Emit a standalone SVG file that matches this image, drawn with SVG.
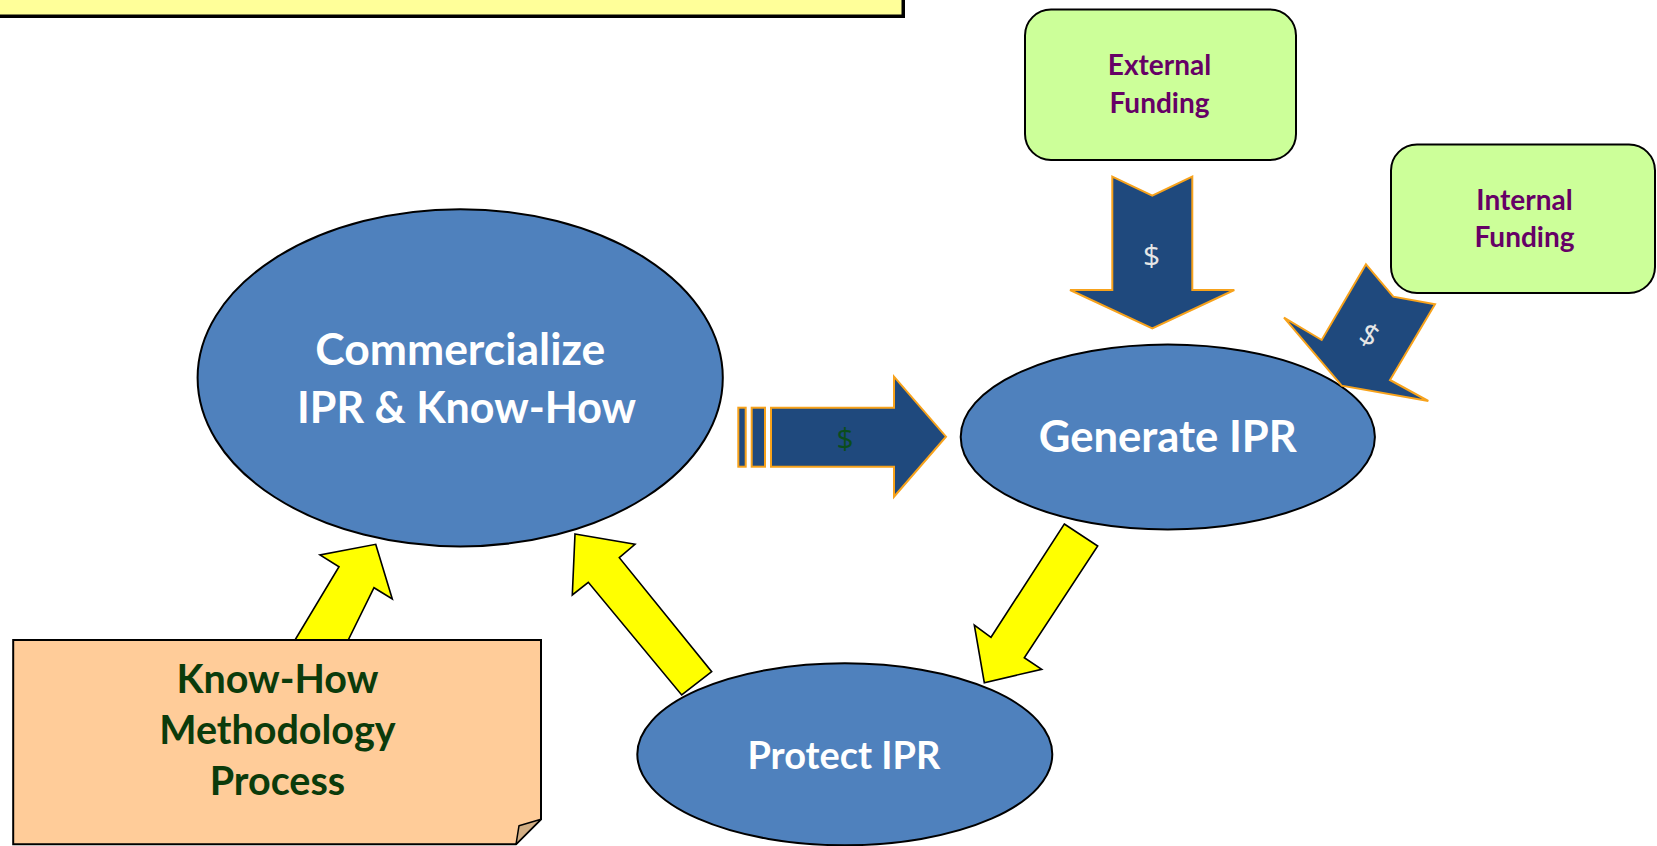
<svg xmlns="http://www.w3.org/2000/svg" width="1657" height="846" viewBox="0 0 1657 846">
<style>
.ell{fill:#4F81BD;stroke:#000;stroke-width:2}
.yarr{fill:#FFFF00;stroke:#000;stroke-width:1.6;stroke-linejoin:miter}
.darr{fill:#1F497D;stroke:#F7A21B;stroke-width:2;stroke-linejoin:miter}
.gbox{fill:#CCFF99;stroke:#000;stroke-width:2}
.wt{font-family:Lato,"Liberation Sans",sans-serif;font-weight:bold;fill:#FFFFFF;text-anchor:middle}
.pt{font-family:Lato,"Liberation Sans",sans-serif;font-weight:bold;fill:#660066;text-anchor:middle;font-size:28px}
.gt{font-family:Lato,"Liberation Sans",sans-serif;font-weight:bold;fill:#0B3B0B;text-anchor:middle;font-size:39.5px}
.dol{font-family:"Open Sans","Liberation Sans",sans-serif;text-anchor:middle;font-size:30px}
</style>
<g id="top-box">
<rect x="-2" y="-2" width="907" height="20" fill="#000"/>
<rect x="-5" y="-5" width="907" height="20" fill="#FFFF99" stroke="#000" stroke-width="1"/>
</g>
<g id="commercialize">
<ellipse class="ell" cx="460.2" cy="377.8" rx="262.6" ry="168.6"/>
<text class="wt" x="460.2" y="365" font-size="44.5" textLength="290" lengthAdjust="spacingAndGlyphs">Commercialize</text>
<text class="wt" x="466.6" y="423" font-size="44" textLength="339" lengthAdjust="spacingAndGlyphs">IPR &amp; Know-How</text>
</g>
<g id="generate">
<ellipse class="ell" cx="1167.8" cy="437" rx="207.1" ry="92.5"/>
<text class="wt" x="1167.8" y="451.7" font-size="44" textLength="258" lengthAdjust="spacingAndGlyphs">Generate IPR</text>
</g>
<g id="protect">
<ellipse class="ell" cx="844.8" cy="754.3" rx="207.5" ry="91"/>
<text class="wt" x="843.9" y="769.3" font-size="38.5" textLength="193" lengthAdjust="spacingAndGlyphs">Protect IPR</text>
</g>
<g id="external-funding">
<rect class="gbox" x="1025" y="9.5" width="271" height="150.5" rx="26" ry="26"/>
<text class="pt" x="1159.5" y="75">External</text>
<text class="pt" x="1159.5" y="113">Funding</text>
</g>
<g id="internal-funding">
<rect class="gbox" x="1391" y="144.5" width="264" height="148.5" rx="26" ry="26"/>
<text class="pt" x="1524.5" y="209.7">Internal</text>
<text class="pt" x="1524.5" y="247.3">Funding</text>
</g>
<g id="connectors">
<polygon class="yarr" points="375.7,544.3 392.3,599 374,587.7 343.3,650 289,650 339,566.7 320,555"/>
<polygon class="yarr" points="575,534 635,544.3 619.3,557.7 711.7,671.7 681.7,695 588.3,582.3 572.3,595"/>
<polygon class="yarr" points="1064.3,524 1097.7,546 1024.3,657.7 1041.7,669.3 984.3,682.7 974.3,625 991,637.3"/>
<g id="arrow-right">
<rect class="darr" x="738.3" y="407.7" width="7.4" height="59"/>
<rect class="darr" x="751.7" y="407.7" width="13.3" height="59"/>
<polygon class="darr" points="771,407.7 894,407.7 894,376.7 946,436.7 894,496.7 894,466.7 771,466.7"/>
<text class="dol" x="845" y="449" fill="#0B4D1A">$</text>
</g>
<g id="arrow-down">
<polygon class="darr" points="1112.3,176.7 1152.3,195.7 1192.3,176.7 1192.3,290 1234.3,290 1152.3,328.3 1070,290 1112.3,290"/>
<text class="dol" x="1151.7" y="266" fill="#E6E6E6">$</text>
</g>
<g id="arrow-diag">
<polygon class="darr" points="1366,264.3 1393.3,296.7 1435,304.3 1390,380 1428.3,401 1341.7,385.7 1284,317.7 1321.7,340"/>
<text class="dol" x="0" y="10" fill="#E6E6E6" transform="translate(1369.3,335.7) rotate(30)">$</text>
</g>
</g>
<g id="know-how">
<polygon points="13.2,640 541,640 541,819.3 516,844.3 13.2,844.3" fill="#FFCC99" stroke="#000" stroke-width="2"/>
<polygon points="541,819.3 519,825.7 516,844.3" fill="#D2AE84" stroke="#000" stroke-width="1.5" stroke-linejoin="round"/>
<text class="gt" x="277.4" y="692.7">Know-How</text>
<text class="gt" x="277.4" y="744">Methodology</text>
<text class="gt" x="277.4" y="795">Process</text>
</g>
</svg>
